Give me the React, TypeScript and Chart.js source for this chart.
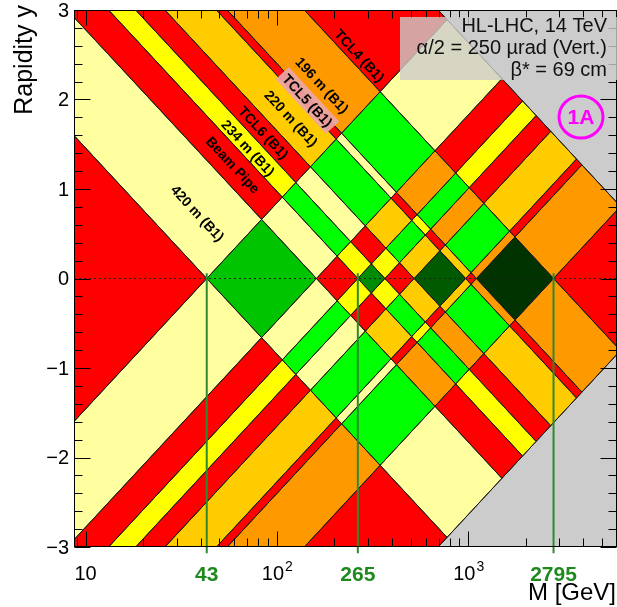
import React, { useEffect, useRef } from 'react';
import { Chart, registerables } from 'chart.js';

Chart.register(...registerables);

// Centre-of-mass energy (GeV): xi = M / sqrt(s) * exp(+-y)
const SQRT_S = 14000;

// Band edges of the B1 acceptance, given as the mass M (GeV) at which each edge crosses y = 0
const bandEdgesM = [43, 161, 265, 367, 522, 970, 1105, 2795];
// Bands between the edges (below the first edge ... up to the kinematic limit)
const bandStations = ['below 420 m', '420 m', 'Beam Pipe', '234 m', 'TCL6', '220 m', 'TCL5', '196 m', 'TCL4'];
const bandAccepted = [false, true, false, true, false, true, false, true, false];
const bandColors = ['#ff0000', '#ffffa0', '#ff0000', '#ffff00', '#ff0000', '#ffcc00', '#ff0000', '#ff9900', '#ff0000'];
// Double tags with the same station on both sides
const sameStationGreens = ['', '#00c400', '', '#008c00', '', '#005a00', '', '#003300', ''];
const mixedGreen = '#00ff00';
const kinematicGray = '#cccccc';

// Station labels: text, M at y = 0 of the line they sit on, and rapidity of the label centre
const labelTexts = ['420 m (B1)', 'Beam Pipe', '234 m (B1)', 'TCL6 (B1)', '220 m (B1)', 'TCL5 (B1)', '196 m (B1)', 'TCL4 (B1)'];
const labelM0 = [80, 210, 305, 435, 711, 1057, 1494, 3265];
const labelY = [0.73, 1.27, 1.46, 1.63, 1.79, 1.99, 2.16, 2.49];

// Symmetric double-tag thresholds marked at y = 0
const markerMasses = [43, 265, 2795];

// Axis ranges and ticks
const xMin = 8.7;
const xMax = 6000;
const yMin = -3;
const yMax = 3;
const xMajorTicks = [10, 100, 1000];
const xMinorTicks = [9, 20, 30, 40, 50, 60, 70, 80, 90, 200, 300, 400, 500, 600, 700, 800, 900, 2000, 3000, 4000, 5000];
const yMajorTicks = [-3, -2, -1, 0, 1, 2, 3];
const yLabels = ['\u22123', '\u22122', '\u22121', '0', '1', '2', '3'];

const legendLines = ['HL-LHC, 14 TeV', '\u03b1/2 = 250 \u00b5rad (Vert.)', '\u03b2* = 69 cm'];

const FONT = "'Liberation Sans', Arial, Helvetica, sans-serif";

function cellColor(i: number, j: number): string {
  const ai = bandAccepted[i];
  const aj = bandAccepted[j];
  if (ai && aj) return i === j ? sameStationGreens[i] : mixedGreen;
  if (ai) return bandColors[i];
  if (aj) return bandColors[j];
  return '#ff0000';
}

const decorPlugin = {
  id: 'decor',
  afterDatasetsDraw(chart: any) {
    const ctx: CanvasRenderingContext2D = chart.ctx;
    const xs = chart.scales.x;
    const ys = chart.scales.y;
    const a = chart.chartArea;
    ctx.save();

    // station labels along the bands
    ctx.font = `bold 14px ${FONT}`;
    ctx.textAlign = 'center';
    ctx.textBaseline = 'middle';
    for (let k = 0; k < labelTexts.length; k++) {
      const y = labelY[k];
      const px = xs.getPixelForValue(labelM0[k] * Math.exp(-y));
      const py = ys.getPixelForValue(y);
      const qx = xs.getPixelForValue(labelM0[k]);
      const qy = ys.getPixelForValue(0);
      const ang = Math.atan2(qy - py, qx - px);
      ctx.save();
      ctx.translate(px, py);
      ctx.rotate(ang);
      if (labelTexts[k].startsWith('TCL5')) {
        const w = ctx.measureText(labelTexts[k]).width + 8;
        ctx.fillStyle = 'rgba(236,166,166,0.92)';
        ctx.fillRect(-w / 2, -9, w, 18);
      }
      ctx.fillStyle = '#000';
      ctx.fillText(labelTexts[k], 0, 1);
      ctx.restore();
    }

    // frame ticks on all four sides
    ctx.strokeStyle = '#000';
    ctx.lineWidth = 1;
    ctx.beginPath();
    const L = a.left + 0.5, R = a.right - 0.5, T = a.top + 0.5, B = a.bottom - 0.5;
    for (const v of yMajorTicks) {
      const p = Math.round(ys.getPixelForValue(v)) + 0.5;
      ctx.moveTo(L, p); ctx.lineTo(L + 16, p);
      ctx.moveTo(R, p); ctx.lineTo(R - 16, p);
    }
    for (let n = -15; n <= 15; n++) {
      if (n % 5 === 0) continue;
      const p = Math.round(ys.getPixelForValue(n * 0.2)) + 0.5;
      ctx.moveTo(L, p); ctx.lineTo(L + 8, p);
      ctx.moveTo(R, p); ctx.lineTo(R - 8, p);
    }
    for (const v of xMajorTicks) {
      const p = Math.round(xs.getPixelForValue(v)) + 0.5;
      ctx.moveTo(p, B); ctx.lineTo(p, B - 15);
      ctx.moveTo(p, T); ctx.lineTo(p, T + 15);
    }
    for (const v of xMinorTicks) {
      const p = Math.round(xs.getPixelForValue(v)) + 0.5;
      ctx.moveTo(p, B); ctx.lineTo(p, B - 8);
      ctx.moveTo(p, T); ctx.lineTo(p, T + 8);
    }
    ctx.stroke();
    ctx.strokeRect(L, T, R - L, B - T);

    // information box
    ctx.fillStyle = 'rgba(204,204,204,0.8)';
    ctx.fillRect(400, 17, a.right - 400, 63);
    ctx.fillStyle = '#111';
    ctx.font = `20px ${FONT}`;
    ctx.textAlign = 'right';
    ctx.textBaseline = 'alphabetic';
    legendLines.forEach((t, i) => ctx.fillText(t, 607, 32 + i * 22));

    // configuration tag
    ctx.strokeStyle = '#ff00ff';
    ctx.lineWidth = 3;
    ctx.beginPath();
    ctx.ellipse(581, 117, 22, 21, 0, 0, Math.PI * 2);
    ctx.stroke();
    ctx.fillStyle = '#ff00ff';
    ctx.font = `bold 21px ${FONT}`;
    ctx.textAlign = 'center';
    ctx.textBaseline = 'middle';
    ctx.fillText('1A', 581, 118);
    ctx.restore();
  },
  afterDraw(chart: any) {
    const ctx: CanvasRenderingContext2D = chart.ctx;
    const xs = chart.scales.x;
    const ys = chart.scales.y;
    ctx.save();
    ctx.fillStyle = '#000';
    ctx.font = `20px ${FONT}`;
    ctx.textAlign = 'right';
    ctx.textBaseline = 'middle';
    yMajorTicks.forEach((v, i) => ctx.fillText(yLabels[i], 69, ys.getPixelForValue(v) + 1));

    // decade labels
    ctx.textBaseline = 'alphabetic';
    xMajorTicks.forEach((v, i) => {
      const p = xs.getPixelForValue(v);
      ctx.font = `20px ${FONT}`;
      if (i === 0) {
        ctx.textAlign = 'center';
        ctx.fillText('10', p, 580);
      } else {
        const base = ctx.measureText('10').width;
        ctx.font = `14px ${FONT}`;
        const sup = ctx.measureText(String(i + 1)).width;
        const start = p - (base + sup) / 2;
        ctx.textAlign = 'left';
        ctx.font = `20px ${FONT}`;
        ctx.fillText('10', start, 580);
        ctx.font = `14px ${FONT}`;
        ctx.fillText(String(i + 1), start + base + 1, 571);
      }
    });

    // marker labels
    ctx.fillStyle = '#1e8a1e';
    ctx.font = `bold 21px ${FONT}`;
    ctx.textAlign = 'center';
    markerMasses.forEach((m) => ctx.fillText(String(m), xs.getPixelForValue(m), 581));

    // axis titles
    ctx.fillStyle = '#000';
    ctx.font = `24px ${FONT}`;
    ctx.textAlign = 'right';
    ctx.fillText('M [GeV]', 616, 600);
    ctx.save();
    ctx.font = `25px ${FONT}`;
    ctx.translate(32, 5);
    ctx.rotate(-Math.PI / 2);
    ctx.textAlign = 'right';
    ctx.fillText('Rapidity y', 0, 0);
    ctx.restore();
    ctx.restore();
  },
};

export default function App() {
  const ref = useRef<HTMLCanvasElement>(null);

  useEffect(() => {
    document.body.style.margin = '0';
    const canvas = ref.current;
    if (!canvas) return;

    const lnLow = Math.log(0.01);
    const lnHigh = Math.log(1e8);
    const lnLimit = Math.log(SQRT_S);
    const lnEdges = [lnLow, ...bandEdgesM.map((m) => Math.log(m)), lnLimit];
    // (a, b) = (ln M + y, ln M - y)
    const corner = (a: number, b: number) => ({ x: Math.exp((a + b) / 2), y: (a - b) / 2 });
    const quad = (a1: number, a2: number, b1: number, b2: number) => [
      corner(a1, b1), corner(a2, b1), corner(a2, b2), corner(a1, b2), corner(a1, b1),
    ];

    const cellStyle = {
      fill: 'shape',
      borderColor: '#1a1a1a',
      borderWidth: 1,
      pointRadius: 0,
      pointHoverRadius: 0,
      tension: 0,
      order: 10,
    };

    const datasets: any[] = [];
    for (let i = 0; i < bandStations.length; i++) {
      for (let j = 0; j < bandStations.length; j++) {
        datasets.push({
          label: `${bandStations[i]} x ${bandStations[j]}`,
          data: quad(lnEdges[i], lnEdges[i + 1], lnEdges[j], lnEdges[j + 1]),
          backgroundColor: cellColor(i, j),
          ...cellStyle,
        });
      }
    }
    // beyond the kinematic limit (xi > 1)
    datasets.push({ label: 'xi1 > 1', data: quad(lnLimit, lnHigh, lnLow, lnLimit), backgroundColor: kinematicGray, ...cellStyle });
    datasets.push({ label: 'xi2 > 1', data: quad(lnLow, lnLimit, lnLimit, lnHigh), backgroundColor: kinematicGray, ...cellStyle });

    datasets.push({
      label: 'y = 0',
      data: [{ x: xMin, y: 0 }, { x: xMax, y: 0 }],
      borderColor: '#222',
      borderWidth: 1.2,
      borderDash: [2, 3],
      pointRadius: 0,
      fill: false,
      order: 2,
    });
    for (const m of markerMasses) {
      datasets.push({
        label: `M = ${m}`,
        data: [{ x: m, y: 0.06 }, { x: m, y: -3.07 }],
        borderColor: '#2f8a2f',
        borderWidth: 2,
        pointRadius: 0,
        fill: false,
        clip: false,
        order: 1,
      });
    }

    const chart = new Chart(canvas, {
      type: 'line',
      data: { datasets },
      options: {
        animation: false,
        responsive: false,
        devicePixelRatio: 1,
        events: [],
        layout: { padding: { top: 10, right: 0, bottom: 0, left: 0 } },
        plugins: {
          legend: { display: false },
          tooltip: { enabled: false },
          filler: { drawTime: 'beforeDatasetsDraw' },
        },
        scales: {
          x: {
            type: 'logarithmic',
            min: xMin,
            max: xMax,
            ticks: { display: false },
            grid: { display: false },
            border: { display: false },
            afterFit: (s: any) => { s.height = 60; },
          },
          y: {
            type: 'linear',
            min: yMin,
            max: yMax,
            ticks: { display: false },
            grid: { display: false },
            border: { display: false },
            afterFit: (s: any) => { s.width = 74; },
          },
        },
      } as any,
      plugins: [decorPlugin],
    });
    return () => chart.destroy();
  }, []);

  return (
    <canvas
      ref={ref}
      width={617}
      height={607}
      style={{ position: 'absolute', left: 0, top: 0, width: 617, height: 607, display: 'block' }}
    />
  );
}
